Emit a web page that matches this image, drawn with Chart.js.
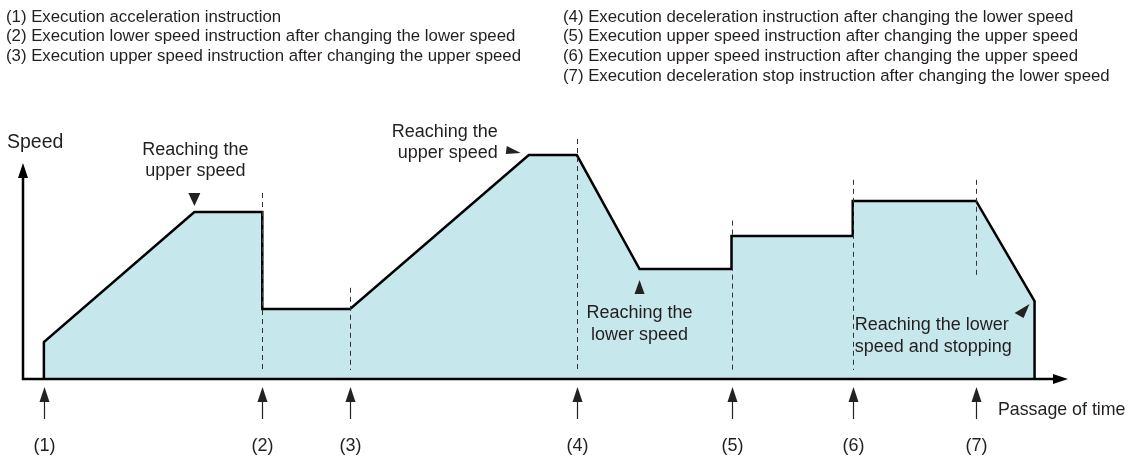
<!DOCTYPE html>
<html>
<head>
<meta charset="utf-8">
<script src="https://cdn.jsdelivr.net/npm/chart.js@4"></script>
<style>
  html, body { margin: 0; padding: 0; background: #fff; }
  #wrap { width: 1131px; height: 458px; }
</style>
</head>
<body>
<div id="wrap"><canvas id="profil"></canvas></div>
<script>
/* profil de vitesse : temps (0..100) / vitesse (0..100) */
const temps = [2, 2, 16.4, 22.9, 22.9, 31.3, 48.4, 53, 59, 67.8, 67.8, 79.4, 79.4, 91.2, 96.8, 96.8];
const vitesse = [0, 15.4, 69.6, 69.6, 29.2, 29.2, 93.3, 93.3, 45.8, 45.8, 59.6, 59.6, 74.2, 74.2, 32.5, 0];

/* instants des instructions (1) a (7) */
const evenements = ["(1)", "(2)", "(3)", "(4)", "(5)", "(6)", "(7)"];
const tempsEvenements = [2, 22.9, 31.3, 53, 67.8, 79.4, 91.2];
/* lignes pointillees : haut et bas (vitesse), null = pas de ligne */
const pointilleHaut = [null, 77.5, 38, 100, 66, 83, 83];
const pointilleBas = [null, 3.75, 3.75, 3.75, 3.75, 3.75, 42.5];

const legendeGauche = [
  "(1) Execution acceleration instruction",
  "(2) Execution lower speed instruction after changing the lower speed",
  "(3) Execution upper speed instruction after changing the upper speed",
];
const legendeDroite = [
  "(4) Execution deceleration instruction after changing the lower speed",
  "(5) Execution upper speed instruction after changing the upper speed",
  "(6) Execution upper speed instruction after changing the upper speed",
  "(7) Execution deceleration stop instruction after changing the lower speed",
];

const FONT = '"Liberation Sans", Arial, sans-serif';
const TXT = "#231f20";

function triangle(ctx, pts) {
  ctx.beginPath();
  ctx.moveTo(pts[0][0], pts[0][1]);
  ctx.lineTo(pts[1][0], pts[1][1]);
  ctx.lineTo(pts[2][0], pts[2][1]);
  ctx.closePath();
  ctx.fill();
}

const decor = {
  id: "decor",
  afterDatasetsDraw(chart) {
    const ctx = chart.ctx;
    const x = chart.scales.x;
    const y = chart.scales.y;
    const x0 = x.getPixelForValue(0);
    const y0 = y.getPixelForValue(0);
    ctx.save();

    /* axes */
    ctx.strokeStyle = "#000";
    ctx.fillStyle = "#000";
    ctx.lineWidth = 2.5;
    ctx.beginPath();
    ctx.moveTo(x0, y.getPixelForValue(86));
    ctx.lineTo(x0, y0);
    ctx.lineTo(x.getPixelForValue(98.6), y0);
    ctx.stroke();
    const yTop = y.getPixelForValue(90);
    triangle(ctx, [[x0, yTop], [x0 - 5, yTop + 15], [x0 + 5, yTop + 15]]);
    const xEnd = x.getPixelForValue(100);
    triangle(ctx, [[xEnd, y0], [xEnd - 15, y0 - 5], [xEnd - 15, y0 + 5]]);

    /* pointilles + fleches des instructions */
    ctx.font = "18px " + FONT;
    ctx.textAlign = "center";
    ctx.textBaseline = "middle";
    tempsEvenements.forEach((t, i) => {
      const px = Math.round(x.getPixelForValue(t)) + 0.5;
      if (pointilleHaut[i] !== null) {
        ctx.strokeStyle = "#333";
        ctx.lineWidth = 1;
        ctx.setLineDash([5, 4]);
        ctx.beginPath();
        ctx.moveTo(px, y.getPixelForValue(pointilleHaut[i]));
        ctx.lineTo(px, y.getPixelForValue(pointilleBas[i]));
        ctx.stroke();
        ctx.setLineDash([]);
      }
      ctx.strokeStyle = "#222";
      ctx.fillStyle = "#222";
      ctx.lineWidth = 1.2;
      ctx.beginPath();
      ctx.moveTo(px, y0 + 20);
      ctx.lineTo(px, y0 + 40);
      ctx.stroke();
      triangle(ctx, [[px, y0 + 8], [px - 5, y0 + 23], [px + 5, y0 + 23]]);
      ctx.fillStyle = TXT;
      ctx.fillText(evenements[i], px, y0 + 67);
    });

    /* titres des axes */
    ctx.fillStyle = TXT;
    ctx.textAlign = "left";
    ctx.font = "19.5px " + FONT;
    ctx.fillText("Speed", 7, y.getPixelForValue(98.5));
    ctx.font = "17.8px " + FONT;
    ctx.fillText("Passage of time", x.getPixelForValue(93.3), y0 + 31);

    /* annotations */
    ctx.font = "18px " + FONT;
    ctx.fillStyle = "#222";
    let a = [x.getPixelForValue(16.4), y.getPixelForValue(69.6)];
    triangle(ctx, [[a[0], a[1] - 6], [a[0] - 6, a[1] - 19], [a[0] + 6, a[1] - 19]]);
    ctx.fillStyle = TXT;
    ctx.textAlign = "center";
    ctx.fillText("Reaching the", a[0] + 1, a[1] - 62);
    ctx.fillText("upper speed", a[0] + 1, a[1] - 41);

    a = [x.getPixelForValue(48.4), y.getPixelForValue(93.3)];
    ctx.fillStyle = "#222";
    triangle(ctx, [[a[0] - 8, a[1] - 2], [a[0] - 22, a[1] - 9], [a[0] - 23, a[1] - 1]]);
    ctx.fillStyle = TXT;
    ctx.textAlign = "right";
    ctx.fillText("Reaching the", a[0] - 31, a[1] - 23);
    ctx.fillText("upper speed", a[0] - 31, a[1] - 2);

    a = [x.getPixelForValue(59), y.getPixelForValue(45.8)];
    ctx.fillStyle = "#222";
    triangle(ctx, [[a[0], a[1] + 11], [a[0] - 5, a[1] + 25], [a[0] + 5, a[1] + 25]]);
    ctx.fillStyle = TXT;
    ctx.textAlign = "center";
    ctx.fillText("Reaching the", a[0], a[1] + 44);
    ctx.fillText("lower speed", a[0], a[1] + 66);

    a = [x.getPixelForValue(96.8), y.getPixelForValue(32.5)];
    ctx.fillStyle = "#222";
    triangle(ctx, [[a[0] - 5, a[1] + 3], [a[0] - 20, a[1] + 12], [a[0] - 11, a[1] + 17]]);
    ctx.fillStyle = TXT;
    ctx.textAlign = "left";
    ctx.fillText("Reaching the lower", x.getPixelForValue(79.4) + 2, a[1] + 24);
    ctx.fillText("speed and stopping", x.getPixelForValue(79.4) + 2, a[1] + 46);

    /* legende en haut */
    ctx.font = "16.8px " + FONT;
    legendeGauche.forEach((l, i) => ctx.fillText(l, 6, 17 + i * 19.7));
    legendeDroite.forEach((l, i) => ctx.fillText(l, 563, 17 + i * 19.7));

    ctx.restore();
  },
};

const graph = document.getElementById("profil");

new Chart(graph, {
  type: "line",
  data: {
    datasets: [
      {
        label: "Speed",
        data: temps.map((t, i) => ({ x: t, y: vitesse[i] })),
        borderColor: "#000",
        borderWidth: 2.5,
        backgroundColor: "#c6e7ec",
        fill: "origin",
        pointRadius: 0,
        tension: 0,
        clip: false,
        borderJoinStyle: "miter",
      },
    ],
  },
  options: {
    responsive: true,
    maintainAspectRatio: false,
    animation: false,
    layout: { padding: { left: 23, right: 63, top: 139, bottom: 79 } },
    plugins: { legend: { display: false }, tooltip: { enabled: false } },
    scales: {
      x: { type: "linear", min: 0, max: 100, display: false },
      y: { min: 0, max: 100, display: false },
    },
  },
  plugins: [decor],
});
</script>
</body>
</html>
